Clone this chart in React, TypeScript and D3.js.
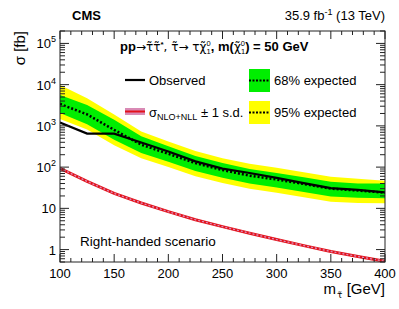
import * as d3 from 'd3'
import { FC } from 'react'

const MARGIN = { top: 31, right: 14, bottom: 47, left: 60 }
const WIDTH = 399
const HEIGHT = 309
const FONT = 'Liberation Sans, Arial, Helvetica, sans-serif'
const SYM = 'DejaVu Sans, sans-serif'

// stau mass points [GeV]
const MASSES = [100, 125, 150, 175, 200, 225, 250, 275, 300, 325, 350, 375, 400]
// cross section limits [fb]
const OBSERVED = [1200, 650, 650, 395, 240, 138, 92, 72, 55, 41, 31, 28, 24.5]
const EXPECTED = [3400, 1900, 800, 350, 210, 125, 85, 62, 50, 39, 30, 27, 24]
const EXP_PLUS2 = [9800, 4700, 1900, 735, 420, 245, 165, 120, 96, 75, 58, 52, 47]
const EXP_PLUS1 = [5600, 3200, 1400, 560, 320, 185, 125, 90, 72, 57, 44, 40, 40]
const EXP_MINUS1 = [2050, 1100, 460, 220, 135, 80, 55, 40, 32, 25, 19.5, 18, 17.5]
const EXP_MINUS2 = [1470, 820, 340, 165, 100, 60, 41, 30, 24, 18.5, 14.5, 13.5, 13.3]
const THEORY = [94, 45, 23, 13.5, 8.3, 5.3, 3.6, 2.5, 1.75, 1.25, 0.9, 0.68, 0.52]

const X_TICKS = [100, 150, 200, 250, 300, 350, 400]
const Y_DECADES = [1, 10, 100, 1000, 10000, 100000]
const Y_LABELS = [['1', ''], ['10', ''], ['10', '2'], ['10', '3'], ['10', '4'], ['10', '5']]

const App: FC = () => {
  const boundsWidth = WIDTH - MARGIN.left - MARGIN.right
  const boundsHeight = HEIGHT - MARGIN.top - MARGIN.bottom
  const x0 = MARGIN.left
  const y0 = MARGIN.top
  const x1 = x0 + boundsWidth
  const y1 = y0 + boundsHeight

  const xScale = d3.scaleLinear().domain([100, 400]).range([x0, x1])
  const yScale = d3.scaleLog().domain([0.5, 2e5]).range([y1, y0])

  const band = (lo: number[], hi: number[]) =>
    d3.area<number>()
      .x((d) => xScale(d))
      .y0((_, i) => yScale(lo[i]))
      .y1((_, i) => yScale(hi[i]))(MASSES) as string

  const line = (vals: number[]) =>
    d3.line<number>()
      .x((d) => xScale(d))
      .y((_, i) => yScale(vals[i]))(MASSES) as string

  // minor ticks
  const xMinor = d3.range(100, 401, 10).filter((v) => v % 50 !== 0)
  const yMinor: number[] = []
  for (let e = -1; e <= 5; e++) {
    for (let k = 2; k <= 9; k++) {
      const v = k * Math.pow(10, e)
      if (v >= 0.5 && v <= 2e5) yMinor.push(v)
    }
  }

  const axisColor = '#222'
  const pink = '#d98ab5'
  const red = '#e3121b'

  return (
    <svg width={ WIDTH } height={ HEIGHT } style={{ position: 'absolute', left: 0, top: 0 }} fontFamily={ FONT }>
      <rect width={ WIDTH } height={ HEIGHT } fill='white' />
      <defs>
        <clipPath id='plotArea'>
          <rect x={ x0 } y={ y0 } width={ boundsWidth } height={ boundsHeight } />
        </clipPath>
      </defs>

      <g clipPath='url(#plotArea)'>
        <path d={ band(EXP_MINUS2, EXP_PLUS2) } fill='#ffff00' />
        <path d={ band(EXP_MINUS1, EXP_PLUS1) } fill='#00ee00' />
        <path d={ line(EXPECTED) } fill='none' stroke='black' strokeWidth={ 2.5 } strokeDasharray='2,2' />
        <path d={ line(OBSERVED) } fill='none' stroke='black' strokeWidth={ 2.2 } />
        <path d={ line(THEORY) } fill='none' stroke={ red } strokeWidth={ 3 } />
        <path d={ line(THEORY) } fill='none' stroke={ pink } strokeWidth={ 1.4 } strokeDasharray='2,2' />
      </g>

      {/* frame */}
      <rect x={ x0 } y={ y0 } width={ boundsWidth } height={ boundsHeight } fill='none' stroke={ axisColor } strokeWidth={ 1 } />

      {/* x ticks */}
      { X_TICKS.map((t) => (
        <g key={ 'xt' + t }>
          <line x1={ xScale(t) } x2={ xScale(t) } y1={ y1 } y2={ y1 - 8 } stroke={ axisColor } />
          <line x1={ xScale(t) } x2={ xScale(t) } y1={ y0 } y2={ y0 + 8 } stroke={ axisColor } />
          <text x={ xScale(t) } y={ y1 + 16 } textAnchor='middle' fontSize={ 13 }>{ t }</text>
        </g>
      )) }
      { xMinor.map((t) => (
        <g key={ 'xm' + t }>
          <line x1={ xScale(t) } x2={ xScale(t) } y1={ y1 } y2={ y1 - 4 } stroke={ axisColor } />
          <line x1={ xScale(t) } x2={ xScale(t) } y1={ y0 } y2={ y0 + 4 } stroke={ axisColor } />
        </g>
      )) }

      {/* y ticks */}
      { Y_DECADES.map((t, i) => (
        <g key={ 'yt' + t }>
          <line x1={ x0 } x2={ x0 + 9 } y1={ yScale(t) } y2={ yScale(t) } stroke={ axisColor } />
          <line x1={ x1 } x2={ x1 - 9 } y1={ yScale(t) } y2={ yScale(t) } stroke={ axisColor } />
          <text x={ x0 - 4 } y={ yScale(t) + 5 } textAnchor='end' fontSize={ 13 }>
            { Y_LABELS[i][0] }
            { Y_LABELS[i][1] && <tspan fontSize={ 9 } dy={ -6 }>{ Y_LABELS[i][1] }</tspan> }
          </text>
        </g>
      )) }
      { yMinor.map((t) => (
        <g key={ 'ym' + t }>
          <line x1={ x0 } x2={ x0 + 5 } y1={ yScale(t) } y2={ yScale(t) } stroke={ axisColor } />
          <line x1={ x1 } x2={ x1 - 5 } y1={ yScale(t) } y2={ yScale(t) } stroke={ axisColor } />
        </g>
      )) }

      {/* axis titles */}
      <text transform={ `translate(25,${y0}) rotate(-90)` } textAnchor='end' fontSize={ 15 }>σ [fb]</text>
      <text x={ x1 } y={ 294 } textAnchor='end' fontSize={ 15 }>
        m<tspan fontSize={ 9 } fontFamily={ SYM } dx={ 1 } dy={ 4 }>τ̃</tspan><tspan dy={ -4 }> [GeV]</tspan>
      </text>

      {/* header */}
      <text x={ 72 } y={ 20 } fontSize={ 13 } fontWeight='bold'>CMS</text>
      <text x={ x1 } y={ 20 } textAnchor='end' fontSize={ 13 }>
        35.9 fb<tspan fontSize={ 9 } dy={ -5 }>-1</tspan><tspan dy={ 5 }> (13 TeV)</tspan>
      </text>

      {/* legend */}
      <text x={ 120 } y={ 51 } fontSize={ 13 } fontWeight='bold'>
        pp<tspan fontWeight='normal' fontFamily={ SYM } fontSize={ 12 }>→τ̃τ̃</tspan><tspan fontSize={ 8 } dy={ -4 }>*</tspan>
        <tspan dy={ 4 } fontWeight='normal' fontFamily={ SYM } fontSize={ 12 }>, τ̃→ τχ̃</tspan>
        <tspan fontSize={ 7.5 } dy={ -5 } fontWeight='normal'>0</tspan>
        <tspan fontSize={ 7.5 } dx={ -4 } dy={ 8 } fontWeight='normal'>1</tspan>
        <tspan dy={ -3 }>, m(</tspan><tspan fontWeight='normal' fontFamily={ SYM } fontSize={ 12 }>χ̃</tspan>
        <tspan fontSize={ 7.5 } dy={ -5 } fontWeight='normal'>0</tspan>
        <tspan fontSize={ 7.5 } dx={ -4 } dy={ 8 } fontWeight='normal'>1</tspan>
        <tspan dy={ -3 }>) = 50 GeV</tspan>
      </text>

      <line x1={ 125 } x2={ 145 } y1={ 80 } y2={ 80 } stroke='black' strokeWidth={ 2.2 } />
      <text x={ 149 } y={ 85 } fontSize={ 13 }>Observed</text>

      <rect x={ 125 } y={ 108 } width={ 20 } height={ 7 } fill={ pink } />
      <line x1={ 125 } x2={ 145 } y1={ 111.5 } y2={ 111.5 } stroke={ red } strokeWidth={ 2 } />
      <text x={ 149 } y={ 117 } fontSize={ 13 }>
        σ<tspan fontSize={ 9 } dy={ 3 }>NLO+NLL</tspan><tspan dy={ -3 }> ± 1 s.d.</tspan>
      </text>

      <rect x={ 249 } y={ 69 } width={ 21 } height={ 23 } fill='#00ee00' />
      <line x1={ 249 } x2={ 270 } y1={ 80.5 } y2={ 80.5 } stroke='black' strokeWidth={ 2 } strokeDasharray='2,1.5' />
      <text x={ 274 } y={ 85 } fontSize={ 13 }>68% expected</text>

      <rect x={ 249 } y={ 101 } width={ 21 } height={ 23 } fill='#ffff00' />
      <line x1={ 249 } x2={ 270 } y1={ 112.5 } y2={ 112.5 } stroke='black' strokeWidth={ 2 } strokeDasharray='2,1.5' />
      <text x={ 274 } y={ 117 } fontSize={ 13 }>95% expected</text>

      <text x={ 80 } y={ 246 } fontSize={ 13.5 }>Right-handed scenario</text>
    </svg>
  )
}

export default App
